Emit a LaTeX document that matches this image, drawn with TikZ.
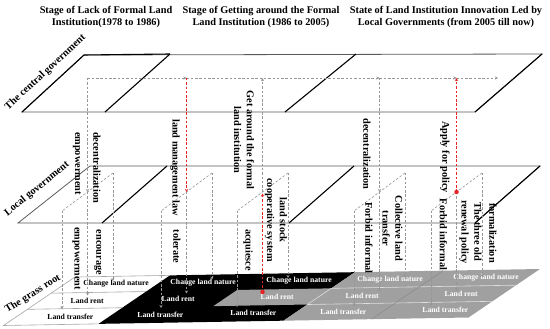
\documentclass[tikz,border=0pt]{standalone}
\usepackage{fontspec}
\setmainfont{Liberation Serif}
\usetikzlibrary{arrows.meta}
\definecolor{redl}{RGB}{232,34,34}
\definecolor{dgray}{RGB}{150,150,150}
\definecolor{fillgray}{RGB}{160,160,160}
\begin{document}
\begin{tikzpicture}[x=1pt,y=-1pt,
  lab/.style={font=\bfseries\fontsize{10.3}{12.8}\selectfont, inner sep=0pt},
  vlab/.style={lab, rotate=-90, align=center},
  ttl/.style={lab, align=center},
  blab/.style={font=\bfseries\fontsize{7.7}{9}\selectfont, inner sep=0pt},
  gdash/.style={draw=dgray, dash pattern=on 2.5pt off 1.8pt, line width=0.6pt},
  rdash/.style={draw=redl, dash pattern=on 2.5pt off 1.8pt, line width=0.9pt},
  arr/.style={-{Stealth[length=3pt,width=3pt]}},
  planeline/.style={draw=black!65, line width=0.8pt},
  divline/.style={draw=black, line width=1.1pt},
  rdot/.style={circle, fill=redl, inner sep=0pt, minimum size=4.5pt},
]
\useasboundingbox (0,0) rectangle (550,329);

% ---------- titles ----------
\node[ttl] (t1) at (106,17) {Stage of Lack of Formal Land\\Institution(1978 to 1986)};
\node[ttl] (t2) at (261,17) {Stage of Getting around the Formal\\Land Institution (1986 to 2005)};
\node[ttl] (t3) at (446,17) {State of Land Institution Innovation Led by\\Local Governments (from 2005 till now)};

% ---------- top plane: central government ----------
\draw[planeline] (84,55) -- (542,54) -- (475,112) -- (22,112) -- cycle;
\draw[divline] (84,55) -- (22,112);
\draw[divline] (84,55) -- (170,54);
\draw[divline] (542,54) -- (475,112);
\draw[divline] (170,54) -- (105,112);
\draw[divline] (356,54) -- (285,112);
\node[lab, rotate=43] (cg) at (45.5,72.5) {The central government};

% ---------- middle plane: local government ----------
\draw[planeline] (90,166) -- (540,166) -- (475,223) -- (18,223) -- cycle;
\draw[divline] (540,166) -- (475,223);
\draw[divline] (167,166) -- (102,223);
\draw[divline] (354,166) -- (289,223);
\node[lab, rotate=39] (lg) at (37,189) {Local government};

% ---------- bottom plane: grass root ----------
\begin{scope}[shift={(75,277)}, x={(1pt,0.0172pt)}, y={(-71.5pt,-48.5pt)}]
  \fill[white] (0,0) -- (95,0) -- (95,1) -- (0,1) -- cycle;
  \fill[black] (95,0) -- (280,0) -- (280,1) -- (95,1) -- cycle;
  \fill[fillgray] (186,1/3) -- (280,1/3) -- (280,2/3) -- (186,2/3) -- cycle;
  \fill[fillgray] (280,0) -- (465,0) -- (465,1) -- (280,1) -- cycle;
  \draw[gray!70, line width=0.6pt] (95,0) -- (0,0) -- (0,1) -- (95,1);
  \draw[gray!70, line width=0.6pt] (0,1/3) -- (95,1/3) (0,2/3) -- (95,2/3);
  \draw[white!75!gray, line width=0.6pt] (280,1/3) -- (465,1/3) (280,2/3) -- (465,2/3) (280,1/3) -- (280,2/3);
  \draw[black!45, line width=0.6pt] (368,0) -- (368,1);
  % labels
  \node[blab] (w1) at (53,1/6) {Change land nature};
  \node[blab] (w2) at (48,1/2) {Land rent};
  \node[blab] (w3) at (55,5/6) {Land transfer};
  \node[blab, text=white] (k1) at (140,1/6) {Change land nature};
  \node[blab, text=white] (k2) at (139,1/2) {Land rent};
  \node[blab, text=white] (k3) at (145,5/6) {Land transfer};
  \node[blab, text=white] (m1) at (236,1/6) {Change land nature};
  \node[blab, text=white] (m2) at (238,1/2) {Land rent};
  \node[blab, text=white] (m3) at (238,5/6) {Land transfer};
  \node[blab, text=white] (a1) at (327,1/6) {Change land nature};
  \node[blab, text=white] (a2) at (323,1/2) {Land rent};
  \node[blab, text=white] (a3) at (328,5/6) {Land transfer};
  \node[blab, text=white] (b1) at (423,1/6) {Change land nature};
  \node[blab, text=white] (b2) at (422,1/2) {Land rent};
  \node[blab, text=white] (b3) at (430,5/6) {Land transfer};
\end{scope}
\node[lab, rotate=32] (gr) at (33,294) {The grass root};

% ---------- coordinates ----------
\coordinate (h0) at (87.5,78);
\coordinate (h1) at (186.5,78);
\coordinate (h2) at (262.5,78);
\coordinate (h3) at (379.5,78);
\coordinate (h4) at (456.5,78);
\coordinate (h5) at (498,78);
% group diagonals in local plane: top, middle, bottom
\foreach \n/\xt in {1/113,2/212,3/288,4/405,5/482}{
  \coordinate (g\n t) at (\xt,173);
  \coordinate (g\n m) at (\xt-25.5,192);
  \coordinate (g\n b) at (\xt-51,211);
}
% targets in grass-root rows
\coordinate (r11) at (113,281);   \coordinate (r12) at (87.5,295.5); \coordinate (r13) at (62,309);
\coordinate (r21) at (212,279.5); \coordinate (r22) at (186.5,293.5); \coordinate (r23) at (161,308);
\coordinate (r31) at (288,278);   \coordinate (r32) at (262.5,292);  \coordinate (r33) at (237,307);
\coordinate (r41) at (405,277);   \coordinate (r42) at (379.5,291);  \coordinate (r43) at (354,306);
\coordinate (r51) at (482,277);   \coordinate (r52) at (456.5,291);  \coordinate (r53) at (431,306);

% ---------- dashed connectors ----------
\foreach \n in {1,...,5}{ \draw[gdash] (g\n t) -- (g\n b); }
\draw[gdash, arr] (h0) -- (h1);
\draw[gdash, arr] (h1) -- (h3);
\draw[gdash, arr] (h3) -- (h4);
\draw[gdash, arr] (h4) -- (h5);
\draw[gdash, arr] (h0) -- (g1m);
\draw[gdash, arr] (g3m) -- (h2);
\draw[gdash, arr] (h3) -- (g4m);
\foreach \n in {1,2,4,5}{
  \draw[gdash, arr] (g\n t) -- (r\n1);
  \draw[gdash, arr] (g\n m) -- (r\n2);
  \draw[gdash, arr] (g\n b) -- (r\n3);
}
\draw[gdash, arr] (g3t) -- (r31);
\draw[gdash, arr] (g3b) -- (r33);
% red connectors
\draw[rdash, arr] (h1) -- (g2m);
\draw[rdash, arr] (r32) -- ([yshift=-1.5pt]g3m);
\node[rdot] (d1) at (r32) {};
\draw[rdash, arr] (g5m) -- (h4);
\node[rdot] (d2) at (g5m) {};

% ---------- vertical labels ----------
\node[vlab] (emp1) at (77,163.5) {empowerment};
\node[vlab] (dec1) at (97,167.5) {decentralization};
\node[vlab] (lml) at (175,167.5) {land management law};
\node[vlab] (get) at (244,140) {Get around the formal\\land institution};
\node[vlab] (lsc) at (276,220) {land stock\\cooperative system};
\node[vlab] (acq) at (248,250) {acquiesce};
\node[vlab] (tol) at (177,246.5) {tolerate};
\node[vlab] (enc) at (98,252.5) {encourage};
\node[vlab] (emp2) at (76.5,258.5) {empowerment};
\node[vlab] (dec2) at (367,154) {decentralization};
\node[vlab] (fi1) at (369,238) {Forbid informal};
\node[vlab] (clt) at (392.5,228.5) {Collective land\\transfer};
\node[vlab] (afp) at (445,157) {Apply for policy};
\node[vlab] (fi2) at (443.5,234.5) {Forbid informal};
\node[vlab] (tor) at (470.5,232) {The three old\\renewal policy};
\node[vlab] (frm) at (493,233) {formalization};
\end{tikzpicture}
\end{document}
